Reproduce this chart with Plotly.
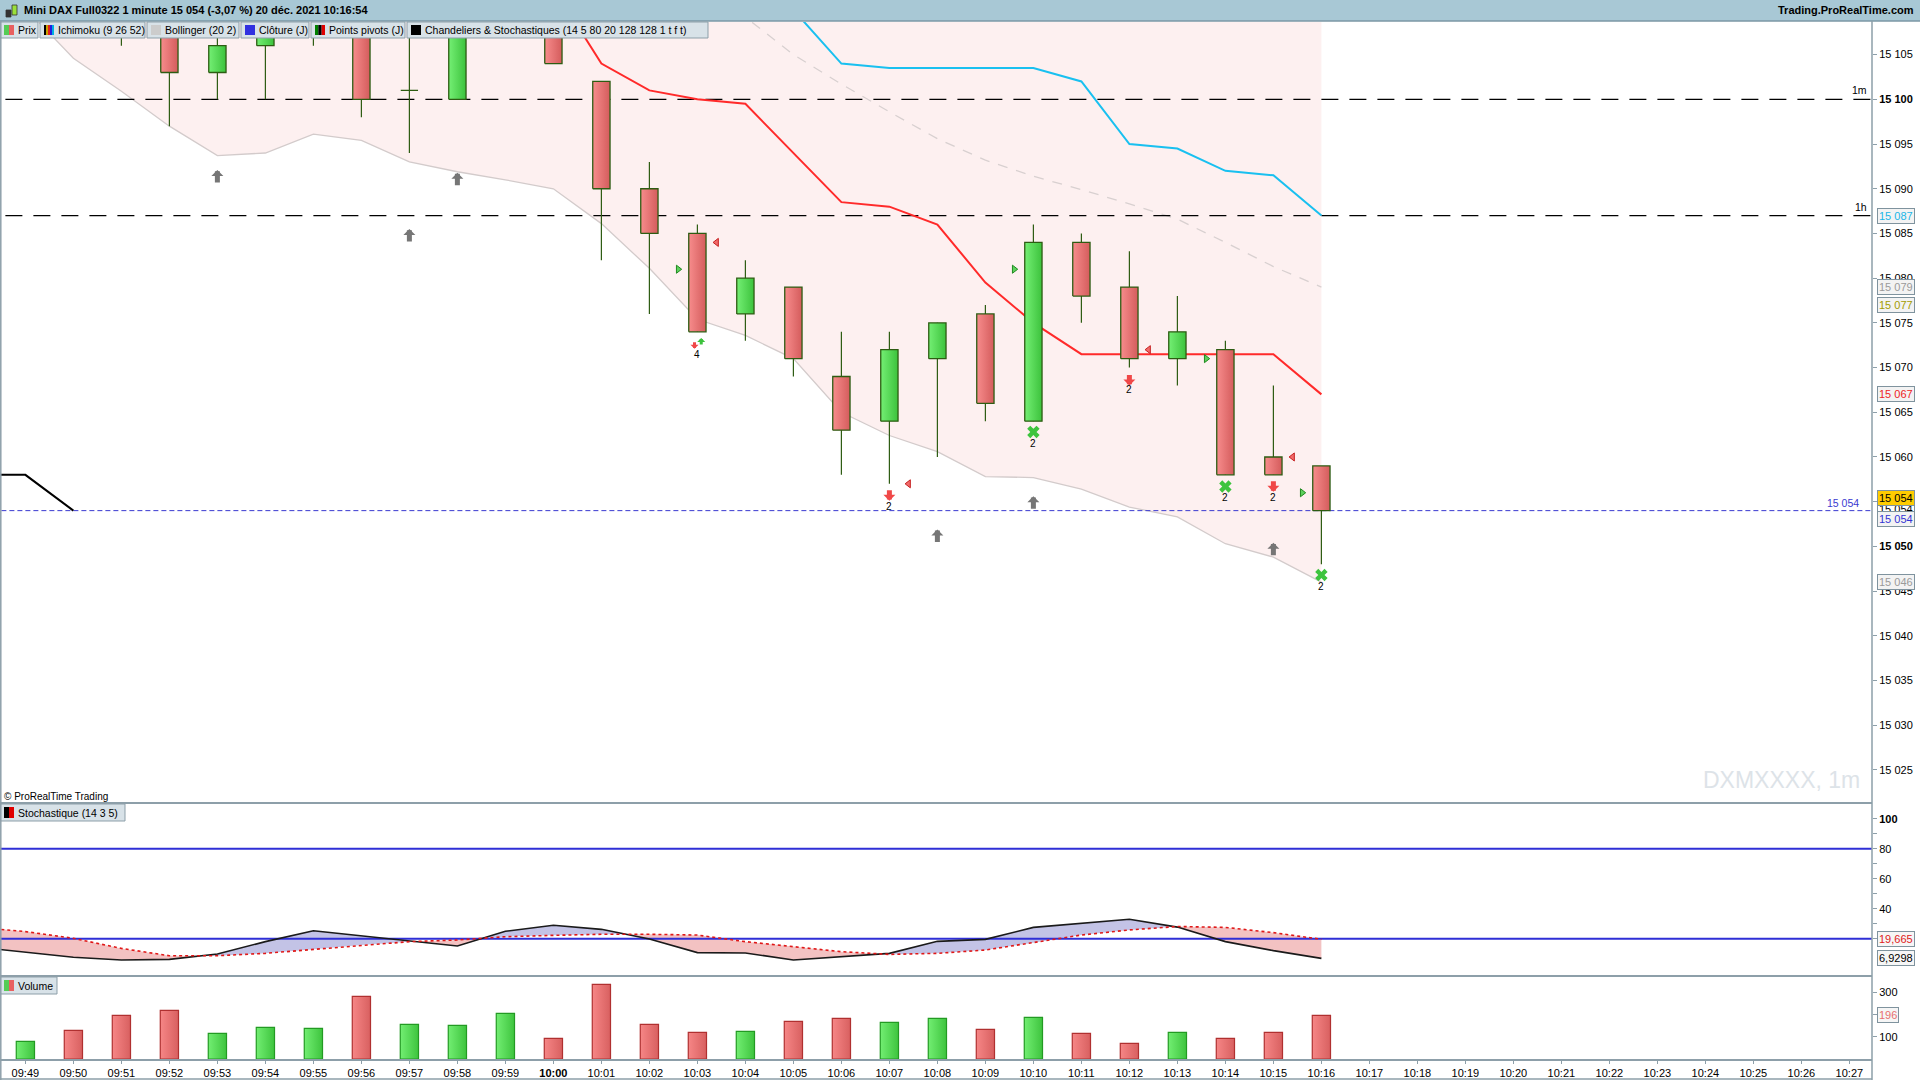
import plotly.graph_objects as go

W, H = 1920, 1080
FONT = "Liberation Sans, Arial, sans-serif"

# ── Données ──────────────────────────────────────────────────────────────
time_labels = ['09:49', '09:50', '09:51', '09:52', '09:53', '09:54', '09:55', '09:56', '09:57',
               '09:58', '09:59', '10:00', '10:01', '10:02', '10:03', '10:04', '10:05', '10:06',
               '10:07', '10:08', '10:09', '10:10', '10:11', '10:12', '10:13', '10:14', '10:15',
               '10:16', '10:17', '10:18', '10:19', '10:20', '10:21', '10:22', '10:23', '10:24',
               '10:25', '10:26', '10:27']

candle_idx = list(range(28))  # 09:49 -> 10:16
opens  = [15112, 15117, 15113, 15110, 15103, 15106, 15110, 15112, 15101, 15100, 15111, 15114, 15102, 15090,
          15085, 15076, 15079, 15069, 15064, 15071, 15076, 15064, 15084, 15079, 15071, 15072, 15060, 15059]
highs  = [15118, 15118.5, 15114, 15111, 15110, 15111, 15113, 15113, 15110, 15112, 15116, 15115, 15102, 15093,
          15086, 15082, 15079, 15074, 15074, 15075, 15077, 15086, 15085, 15083, 15078, 15073, 15068, 15059]
lows   = [15111, 15111.5, 15106, 15097, 15100, 15100, 15106, 15098, 15094, 15100, 15109.5, 15104, 15082, 15076,
          15074, 15073, 15069, 15058, 15057, 15060, 15064, 15064, 15075, 15070, 15068, 15058, 15058, 15048]
closes = [15116, 15113, 15110, 15103, 15106, 15110, 15112, 15100, 15101, 15111, 15115, 15104, 15090, 15085,
          15074, 15080, 15071, 15063, 15072, 15075, 15066, 15084, 15078, 15071, 15074, 15058, 15058, 15054]
volumes = [79, 129, 196, 219, 115, 142, 138, 282, 156, 151, 205, 93, 336, 156,
           120, 124, 169, 183, 165, 183, 133, 187, 115, 70, 120, 93, 120, 196]

bb_upper  = [15134, 15138, 15141, 15144, 15146, 15145, 15142, 15142, 15143, 15143, 15143, 15142, 15143, 15144,
             15146, 15145, 15139, 15138, 15135, 15131, 15129, 15125, 15123, 15122, 15120, 15118, 15114, 15112]
bb_middle = [15122, 15121.5, 15121, 15120.5, 15120, 15119.5, 15119, 15118.5, 15118, 15117.5, 15117, 15116, 15114.5,
             15112.5, 15110.8, 15109.2, 15105.0, 15101.7, 15098.6, 15095.6, 15093.2, 15091.4, 15089.9, 15088.3,
             15086.6, 15084.0, 15081.3, 15079.0]
bb_lower  = [15110.2, 15104.6, 15100.9, 15097.0, 15093.7, 15094.0, 15096.1, 15095.4, 15093.0, 15091.9, 15091.0,
             15090.0, 15086.1, 15081.1, 15075.4, 15073.6, 15071.0, 15065.0, 15062.4, 15060.6, 15057.8, 15057.7,
             15056.4, 15054.4, 15053.3, 15050.3, 15048.8, 15046.0]

tenkan_x = list(range(11, 28))
tenkan   = [15112.5, 15104.0, 15101.0, 15100.0, 15099.5, 15094.0, 15088.5, 15088.0, 15086.0, 15079.5,
            15075.0, 15071.5, 15071.5, 15071.5, 15071.5, 15071.5, 15067.0]
kijun_x  = list(range(16, 28))
kijun    = [15110.0, 15104.0, 15103.5, 15103.5, 15103.5, 15103.5, 15102.0, 15095.0, 15094.5, 15092.0,
            15091.5, 15087.0]
chikou_x = [-1, 0, 1]
chikou   = [15058, 15058, 15054]

pivot_levels = [15100, 15087]
pivot_labels = ['1m', '1h']
prev_close = 15054

stoch_x = list(range(-1, 28))
stoch_k = [14.5, 11.2, 7.7, 5.9, 6.3, 9.9, 18.1, 25.4, 22.1, 18.5, 15.2, 25.0, 29.0, 26.3, 19.8,
           10.8, 10.5, 5.9, 8.1, 10.3, 18.3, 19.6, 27.6, 30.3, 33.0, 27.8, 18.1, 12.1, 6.93]
stoch_d = [27.6, 24.8, 20.3, 13.6, 8.7, 8.7, 10.3, 13.0, 15.9, 18.1, 19.2, 21.4, 22.3, 23.0, 23.0,
           22.5, 18.1, 14.8, 11.4, 9.6, 10.3, 12.5, 17.4, 22.5, 25.9, 28.2, 27.6, 24.1, 19.665]
stoch_levels = [80, 20]

# signaux
gray_up_x   = [4, 8, 9, 19, 21, 26]
gray_up_tip = [15092.1, 15085.5, 15091.8, 15051.9, 15055.6, 15050.4]
red_dn_x    = [18, 23, 26]
red_dn_tip  = [15055.1, 15068.0, 15056.1]
green_x_x   = [21, 25, 27]
green_x_y   = [15062.8, 15056.7, 15046.8]
count_x     = [14, 18, 21, 23, 25, 26, 27]
count_y     = [15071.5, 15054.5, 15061.5, 15067.5, 15055.5, 15055.5, 15045.5]
count_txt   = ['4', '2', '2', '2', '2', '2', '2']
tri_r_x = [13.6, 20.6, 24.6, 26.6]
tri_r_y = [15081.0, 15081.0, 15071.0, 15056.0]
tri_l_x = [14.4, 18.4, 23.4, 26.4]
tri_l_y = [15084.0, 15057.0, 15072.0, 15060.0]

# dernières valeurs (étiquettes de l'axe)
price_tags = [(15087, '15 087', '#1ab6e8', '#f3f3f3', 0),
              (15079, '15 079', '#9a9a9a', '#f3f3f3', 0),
              (15077, '15 077', '#a39c00', '#f3f3f3', 0),
              (15067, '15 067', '#ee2424', '#f3f3f3', 0),
              (15054, '15 054', '#000000', '#ffffff', 2),
              (15054, '15 054', '#000000', '#ffcc00', 13),
              (15054, '15 054', '#3434d4', '#f3f3f3', -8),
              (15046, '15 046', '#9a9a9a', '#f3f3f3', 0)]
stoch_tags = [(19.665, '19,665', '#e02020'), (6.93, '6,9298', '#000000')]
vol_tags = [(196, '196', '#e87070')]

# ── Géométrie ────────────────────────────────────────────────────────────
def px(x):
    return x / W

def py(y):
    return 1 - y / H

X_RANGE = [-0.529, 38.471]
X_DOM = [0, px(1872)]
EDGE = '#2d5c12'
FRAME = '#8d9fa9'
BW = 0.18

fig = go.Figure()

def add(tr):
    tr.update(showlegend=False, hoverinfo='skip')
    fig.add_trace(tr)

# Bollinger
add(go.Scatter(x=candle_idx, y=bb_upper, mode='lines', line=dict(width=0, color='rgba(0,0,0,0)')))
add(go.Scatter(x=candle_idx, y=bb_lower, mode='lines', line=dict(color='#d3cbcb', width=1.3),
               fill='tonexty', fillcolor='#fdf0f0'))
add(go.Scatter(x=candle_idx, y=bb_middle, mode='lines', line=dict(color='#d8d0d0', width=1.3, dash='10px,9px')))

# niveaux horizontaux
for lv in pivot_levels:
    add(go.Scatter(x=[-1, 39], y=[lv, lv], mode='lines', line=dict(color='black', width=1.3, dash='17px,11px')))
add(go.Scatter(x=[-1, 39], y=[prev_close, prev_close], mode='lines',
               line=dict(color='#3a3ad0', width=1, dash='5px,3px')))

# Ichimoku
add(go.Scatter(x=tenkan_x, y=tenkan, mode='lines', line=dict(color='#ff2a2a', width=2)))
add(go.Scatter(x=kijun_x, y=kijun, mode='lines', line=dict(color='#19c0f0', width=2)))
add(go.Scatter(x=chikou_x, y=chikou, mode='lines', line=dict(color='black', width=2)))

# mèches
wx, wy = [], []
for i, h, l in zip(candle_idx, highs, lows):
    wx += [i, i, None]
    wy += [l, h, None]
add(go.Scatter(x=wx, y=wy, mode='lines', line=dict(color=EDGE, width=1.2)))

# corps des chandeliers
for i, o, c in zip(candle_idx, opens, closes):
    lo, hi = min(o, c), max(o, c)
    scale = [[0, '#74ef74'], [1, '#3cc23c']] if c >= o else [[0, '#f78c8c'], [1, '#d45c5c']]
    add(go.Scatter(x=[i - BW, i + BW, i + BW, i - BW, i - BW], y=[lo, lo, hi, hi, lo], mode='lines',
                   fill='toself', fillgradient=dict(type='horizontal', colorscale=scale),
                   line=dict(color=EDGE, width=1.3)))

# signaux
add(go.Scatter(x=green_x_x, y=green_x_y, mode='markers',
               marker=dict(symbol='x', size=11, color='#3ec43e', line=dict(width=0))))
add(go.Scatter(x=tri_r_x, y=tri_r_y, mode='markers',
               marker=dict(symbol='triangle-right', size=7, color='#5cd05c', line=dict(color='#1f8a1f', width=1))))
add(go.Scatter(x=tri_l_x, y=tri_l_y, mode='markers',
               marker=dict(symbol='triangle-left', size=7, color='#f26a6a', line=dict(color='#c42020', width=1))))

# stochastique : zones entre %K et %D
def stoch_polys(xs, k, d):
    out = {1: ([], []), -1: ([], [])}
    def put(sign, pts):
        bx, by = out[sign]
        for p in pts + [pts[0]]:
            bx.append(p[0]); by.append(p[1])
        bx.append(None); by.append(None)
    for j in range(len(xs) - 1):
        x0, x1 = xs[j], xs[j + 1]
        a0, a1 = k[j] - d[j], k[j + 1] - d[j + 1]
        if a0 * a1 < 0:
            t = a0 / (a0 - a1)
            xc = x0 + t * (x1 - x0)
            yc = k[j] + t * (k[j + 1] - k[j])
            put(1 if a0 > 0 else -1, [(x0, k[j]), (xc, yc), (x0, d[j])])
            put(1 if a1 > 0 else -1, [(xc, yc), (x1, k[j + 1]), (x1, d[j + 1])])
        else:
            s = 1 if (a0 + a1) > 0 else -1
            put(s, [(x0, k[j]), (x1, k[j + 1]), (x1, d[j + 1]), (x0, d[j])])
    return out

polys = stoch_polys(stoch_x, stoch_k, stoch_d)
add(go.Scatter(x=polys[1][0], y=polys[1][1], mode='lines', fill='toself', fillcolor='#c3c3e6',
               line=dict(width=0), xaxis='x2', yaxis='y2'))
add(go.Scatter(x=polys[-1][0], y=polys[-1][1], mode='lines', fill='toself', fillcolor='#f3c2c2',
               line=dict(width=0), xaxis='x2', yaxis='y2'))
for lv in stoch_levels:
    add(go.Scatter(x=[-1, 39], y=[lv, lv], mode='lines', line=dict(color='#2f2fd6', width=2),
                   xaxis='x2', yaxis='y2'))
add(go.Scatter(x=stoch_x, y=stoch_k, mode='lines', line=dict(color='#1a1a1a', width=1.6), xaxis='x2', yaxis='y2'))
add(go.Scatter(x=stoch_x, y=stoch_d, mode='lines', line=dict(color='#e01818', width=1.6, dash='dot'),
               xaxis='x2', yaxis='y2'))

# volume
for i, v, o, c in zip(candle_idx, volumes, opens, closes):
    if c >= o:
        scale, edge = [[0, '#72ee72'], [1, '#3ec43e']], '#239a23'
    else:
        scale, edge = [[0, '#f68686'], [1, '#d86060']], '#b03030'
    add(go.Scatter(x=[i - 0.19, i + 0.19, i + 0.19, i - 0.19, i - 0.19], y=[0, 0, v, v, 0], mode='lines',
                   fill='toself', fillgradient=dict(type='horizontal', colorscale=scale),
                   line=dict(color=edge, width=1.2), xaxis='x3', yaxis='y3'))

# ── Axes ─────────────────────────────────────────────────────────────────
price_ticks = list(range(15025, 15110, 5))
price_text = [('<b>%s</b>' if v % 50 == 0 else '%s') % f'{v:,}'.replace(',', ' ') for v in price_ticks]
stoch_ticks = [20, 30, 40, 50, 60, 70, 80, 90, 100]
stoch_text = ['', '', '40', '', '60', '', '80', '', '<b>100</b>']
vol_ticks = [100, 200, 300]
vol_text = ['100', '', '300']
x_text = ['<b>%s</b>' % t if t == '10:00' else t for t in time_labels]

xcommon = dict(range=X_RANGE, domain=X_DOM, showgrid=False, zeroline=False, fixedrange=True)
ycommon = dict(side='right', showgrid=False, zeroline=False, ticks='outside', ticklen=4, tickcolor=FRAME,
               tickfont=dict(size=11, color='black', family=FONT), showline=False)

fig.update_layout(
    width=W, height=H, margin=dict(l=0, r=0, t=0, b=0),
    paper_bgcolor='white', plot_bgcolor='white', hovermode=False,
    font=dict(family=FONT, size=11, color='black'),
    xaxis=dict(**xcommon, anchor='y', showticklabels=False),
    xaxis2=dict(**xcommon, anchor='y2', showticklabels=False),
    xaxis3=dict(**xcommon, anchor='y3', tickvals=list(range(len(time_labels))), ticktext=x_text,
                ticks='outside', ticklen=3, tickcolor=FRAME, tickfont=dict(size=11, family=FONT),
                showline=True, linecolor=FRAME, linewidth=1.5),
    yaxis=dict(**ycommon, domain=[py(803), py(22)], range=[15021.3, 15108.65], anchor='x',
               tickvals=price_ticks, ticktext=price_text),
    yaxis2=dict(**ycommon, domain=[py(976), py(803)], range=[-4.8, 110.5], anchor='x2',
                tickvals=stoch_ticks, ticktext=stoch_text),
    yaxis3=dict(**ycommon, domain=[py(1059), py(976)], range=[0, 373.4], anchor='x3',
                tickvals=vol_ticks, ticktext=vol_text),
)

shapes = []
ann = []

# barre de titre
shapes.append(dict(type='rect', xref='paper', yref='paper', x0=0, x1=1, y0=py(21), y1=1,
                   fillcolor='#a8c8d5', line=dict(width=0), layer='above'))
shapes.append(dict(type='line', xref='paper', yref='paper', x0=0, x1=1, y0=py(21), y1=py(21),
                   line=dict(color='#7b97a5', width=1.5), layer='above'))
# petite icône chandelier
for (x0, x1, y0, y1, col) in [(6, 11, 10, 17, '#333333'), (12, 17, 5, 15, '#9ae03a')]:
    shapes.append(dict(type='rect', xref='paper', yref='paper', x0=px(x0), x1=px(x1), y0=py(y1), y1=py(y0),
                       fillcolor=col, line=dict(color='#333333', width=0.8), layer='above'))
ann.append(dict(xref='paper', yref='paper', x=px(22), y=py(10.5), xanchor='left', yanchor='middle',
                text='<b>Mini DAX Full0322 1 minute 15 054 (-3,07 %) 20 déc. 2021 10:16:54</b>',
                showarrow=False, font=dict(size=11, color='black')))
ann.append(dict(xref='paper', yref='paper', x=px(1916), y=py(10.5), xanchor='right', yanchor='middle',
                text='<b>Trading.ProRealTime.com</b>', showarrow=False, font=dict(size=11, color='black')))

# légende des indicateurs
legend_items = [(0, 38, 'Prix', ['#55cc55', '#e86060']),
                (40, 145, 'Ichimoku (9 26 52)', ['#000000', '#c8a000', '#e02020', '#2020e0', '#00b0e0']),
                (147, 239, 'Bollinger (20 2)', ['#cccccc']),
                (241, 309, 'Clôture (J)', ['#3030e0']),
                (311, 405, 'Points pivots (J)', ['#008000', '#000000', '#e00000']),
                (407, 708, 'Chandeliers & Stochastiques (14 5 80 20 128 128 1 t f t)', ['#000000'])]

def legend_box(x0, x1, y0, y1, label, colors):
    shapes.append(dict(type='rect', xref='paper', yref='paper', x0=px(x0), x1=px(x1), y0=py(y1), y1=py(y0),
                       fillcolor='#d8e2e8', line=dict(color='#8d9fa9', width=1), layer='above'))
    n = len(colors)
    for k, col in enumerate(colors):
        shapes.append(dict(type='rect', xref='paper', yref='paper', x0=px(x0 + 4 + 10 * k / n),
                           x1=px(x0 + 4 + 10 * (k + 1) / n), y0=py(y1 - 3), y1=py(y0 + 3),
                           fillcolor=col, line=dict(width=0), layer='above'))
    ann.append(dict(xref='paper', yref='paper', x=px(x0 + 16), y=py((y0 + y1) / 2), xanchor='left',
                    yanchor='middle', text=label, showarrow=False, font=dict(size=10.5, color='black')))

for x0, x1, label, cols in legend_items:
    legend_box(x0, x1, 22, 38, label, cols)
legend_box(0, 125, 804, 821, 'Stochastique (14 3 5)', ['#000000', '#e00000'])
legend_box(0, 57, 977, 994, 'Volume', ['#55cc55', '#e86060'])

# cadres / séparateurs
for yy in [803, 976]:
    shapes.append(dict(type='line', xref='paper', yref='paper', x0=0, x1=px(1872), y0=py(yy), y1=py(yy),
                       line=dict(color=FRAME, width=2), layer='above'))
shapes.append(dict(type='line', xref='paper', yref='paper', x0=px(1872), x1=px(1872), y0=0, y1=py(21),
                   line=dict(color=FRAME, width=1.5), layer='above'))
shapes.append(dict(type='line', xref='paper', yref='paper', x0=px(0.8), x1=px(0.8), y0=py(1080), y1=py(21),
                   line=dict(color=FRAME, width=1.5), layer='above'))
shapes.append(dict(type='line', xref='paper', yref='paper', x0=0, x1=px(1872), y0=py(1079), y1=py(1079),
                   line=dict(color=FRAME, width=1.5), layer='above'))

# textes dans le graphique
for lv, lab in zip(pivot_levels, pivot_labels):
    ann.append(dict(x=38.4, y=lv, xref='x', yref='y', xanchor='right', yanchor='bottom', yshift=1,
                    text=lab, showarrow=False, font=dict(size=10.5, color='black')))
ann.append(dict(x=38.25, y=prev_close, xref='x', yref='y', xanchor='right', yanchor='bottom', yshift=0,
                text=f'{prev_close:,}'.replace(',', ' '), showarrow=False, font=dict(size=10.5, color='#3a3ad0')))
ann.append(dict(xref='paper', yref='paper', x=px(1862), y=py(780), xanchor='right', yanchor='middle',
                text='DXMXXXX, 1m', showarrow=False, font=dict(size=23, color='#dde3e8')))
ann.append(dict(xref='paper', yref='paper', x=px(2), y=py(796), xanchor='left', yanchor='middle',
                text='© ProRealTime Trading', showarrow=False, font=dict(size=10, color='black')))

# flèches
for xi, yt in zip(gray_up_x, gray_up_tip):
    ann.append(dict(x=xi, y=yt, xref='x', yref='y', text='', showarrow=True, ax=0, ay=14,
                    arrowhead=1, arrowsize=0.4, arrowwidth=5, arrowcolor='#767676', standoff=0))
for xi, yt in zip(red_dn_x, red_dn_tip):
    ann.append(dict(x=xi, y=yt, xref='x', yref='y', text='', showarrow=True, ax=0, ay=-12,
                    arrowhead=1, arrowsize=0.4, arrowwidth=5, arrowcolor='#f04848', standoff=0))
ann.append(dict(x=13.94, y=15072.1, xref='x', yref='y', text='', showarrow=True, ax=0, ay=-8,
                arrowhead=1, arrowsize=0.45, arrowwidth=3, arrowcolor='#f04848', standoff=0))
ann.append(dict(x=14.08, y=15073.3, xref='x', yref='y', text='', showarrow=True, ax=0, ay=8,
                arrowhead=1, arrowsize=0.45, arrowwidth=3, arrowcolor='#3cc23c', standoff=0))
for xi, yi, t in zip(count_x, count_y, count_txt):
    ann.append(dict(x=xi, y=yi, xref='x', yref='y', text=t, showarrow=False, font=dict(size=10, color='black')))

# étiquettes des dernières valeurs
def tag(val, txt, col, bg, ys, yref):
    ann.append(dict(xref='paper', yref=yref, x=px(1877), y=val, xanchor='left', yanchor='middle', yshift=ys,
                    text=txt, showarrow=False, bgcolor=bg, bordercolor='#7f939e', borderwidth=1, borderpad=1,
                    font=dict(size=11, color=col)))

for val, txt, col, bg, ys in price_tags:
    tag(val, txt, col, bg, ys, 'y')
for val, txt, col in stoch_tags:
    tag(val, txt, col, '#f6f6f6', 0, 'y2')
for val, txt, col in vol_tags:
    tag(val, txt, col, '#f6f6f6', 0, 'y3')

fig.update_layout(shapes=shapes, annotations=ann)
fig.write_html("out.html", config={'displayModeBar': False},
               post_script="document.body.style.margin='0px';")
